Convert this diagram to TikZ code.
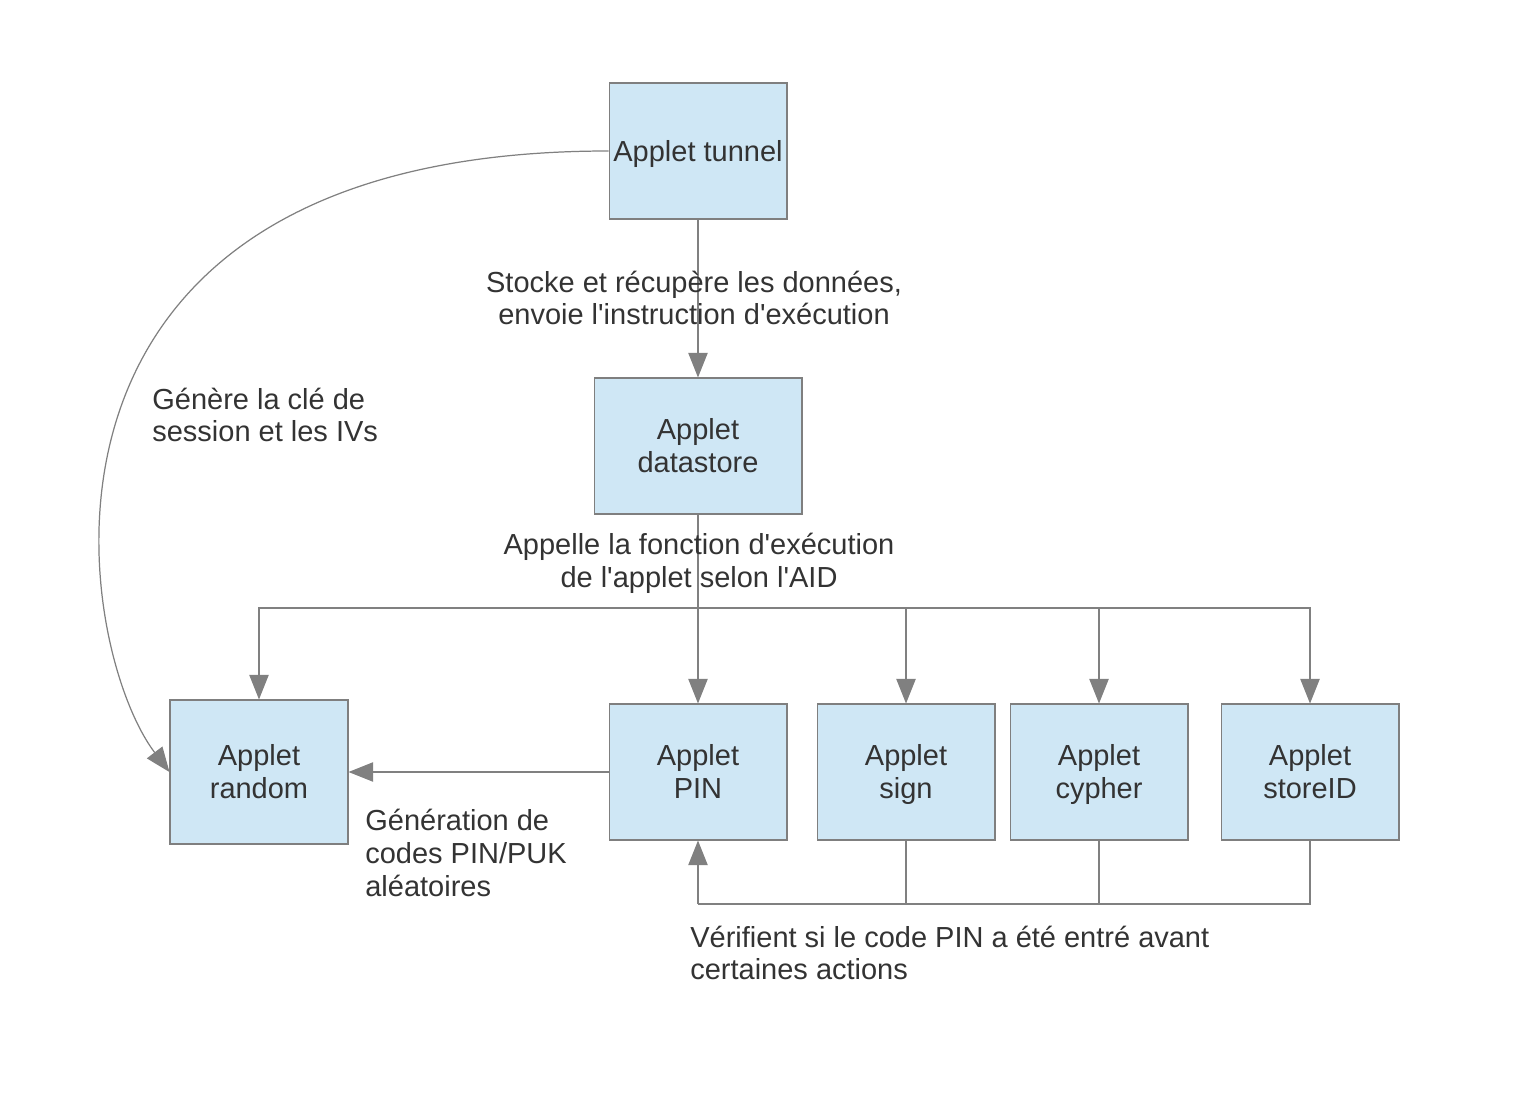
\documentclass[tikz,border=0pt]{standalone}
\usepackage{fontspec}
\setmainfont{Liberation Sans}[Ligatures=TeXOff]
\usepackage{xcolor}
\usetikzlibrary{arrows.meta, positioning}
\definecolor{boxfill}{HTML}{CFE7F5}
\definecolor{boxline}{HTML}{7F7F7F}
\definecolor{wire}{HTML}{808080}
\definecolor{ink}{HTML}{333333}
% box text: same top and bottom whatever the letters
\newcommand{\boxtext}[1]{\rule{0pt}{17pt}#1\strut}

\begin{document}
\begin{tikzpicture}[
  x=0.02cm, y=-0.02cm,
  font=\fontsize{16.5}{18.7}\selectfont,
  box/.style  = {draw=boxline, fill=boxfill, text=ink, line width=0.6pt,
                 minimum width=3.56cm, minimum height=2.72cm,
                 align=center, inner sep=0pt},
  flow/.style = {-{Triangle[length=14pt, width=11pt]}, draw=wire, line width=0.7pt},
  link/.style = {draw=wire, line width=0.7pt},
  lbl/.style  = {text=ink, inner sep=0pt},
]
\useasboundingbox (0,0) rectangle (1520,1108);

% ---- the applets
\node[box] (tunnel) at (698,151) {\boxtext{Applet tunnel}};
\node[box, minimum width=4.16cm] (store) at (698,446) {\rule{0pt}{17pt}Applet\\datastore\strut};
\node[box, minimum height=2.88cm] (random) at (259,772) {\rule{0pt}{17pt}Applet\\random\strut};
\node[box] (pin)    at (698,772)  {\rule{0pt}{17pt}Applet\\PIN\strut};
\node[box] (sign)   at (906,772)  {\rule{0pt}{17pt}Applet\\sign\strut};
\node[box] (cypher) at (1099,772) {\rule{0pt}{17pt}Applet\\cypher\strut};
\node[box] (storeid) at (1310,772) {\rule{0pt}{17pt}Applet\\storeID\strut};

% ---- tunnel to datastore
\draw[flow] (tunnel) -- (store);
\node[lbl, align=center] (storelbl) at (694,298)
     {Stocke et récupère les données,\\ envoie l'instruction d'exécution};

% ---- key generation
\draw[flow] (tunnel.west) .. controls +(-620,0) and +(-95,-125) .. (random.west);
\node[lbl, align=left, anchor=west] (keylbl) at (152,415)
     {Génère la clé de\\session et les IVs};

% ---- dispatch by AID
\coordinate (fork) at (698,608);
\draw[flow] (store) -- (pin);
\draw[flow] (fork) -| (random.north);
\draw[flow] (fork) -| (sign.north);
\draw[flow] (fork) -| (cypher.north);
\draw[flow] (fork) -| (storeid.north);
\node[lbl, align=center] (aidlbl) at (699,563)
     {Appelle la fonction d'exécution\\de l'applet selon l'AID};

% ---- random PIN/PUK
\draw[flow] (pin) -- (random);
\node[lbl, align=left, anchor=west] (pinlbl) at (365,853)
     {Génération de\\codes PIN/PUK\\aléatoires};

% ---- PIN checks
\coordinate (join) at (698,904);
\draw[link] (sign.south) |- (join);
\draw[link] (cypher.south) |- (join);
\draw[link] (storeid.south) |- (join);
\draw[flow] (join) -- (pin.south);
\node[lbl, align=left, anchor=west] (checklbl) at (690,953)
     {Vérifient si le code PIN a été entré avant\\certaines actions};

\end{tikzpicture}
\end{document}
